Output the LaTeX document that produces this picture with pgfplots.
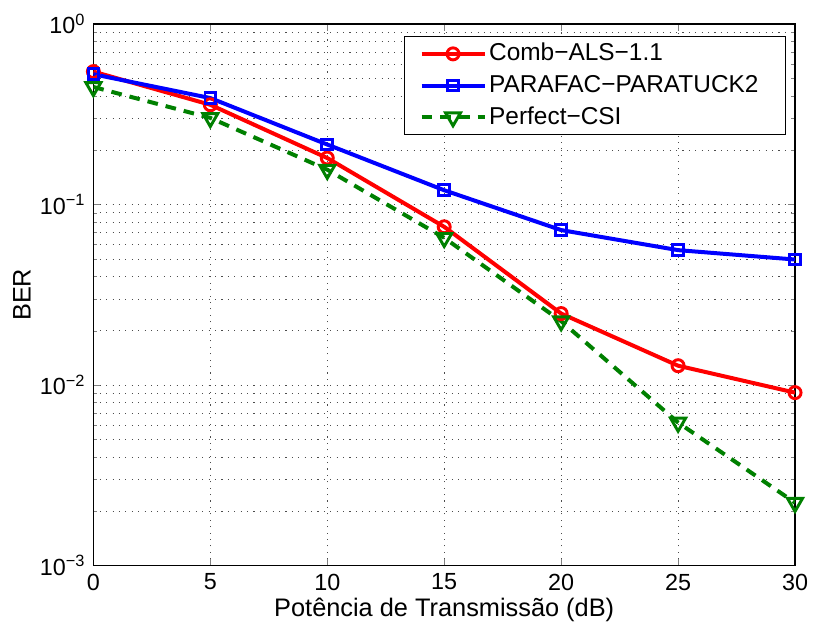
\documentclass[border=0pt]{standalone}
\usepackage{pgfplots}
\pgfplotsset{compat=1.18}
\usepackage{fontspec}
\setmainfont{Liberation Sans}
\definecolor{mgreen}{rgb}{0,0.5,0}
\begin{document}
\fontsize{18}{21}\selectfont
\begin{tikzpicture}
\begin{semilogyaxis}[
  width=526pt, height=406pt, scale only axis,
  xmin=0, xmax=30, ymin=1e-3, ymax=1,
  xtick={0,5,10,15,20,25,30},
  ytick={1e-3,1e-2,1e-1,1},
  yticklabels={10\textsuperscript{−3},10\textsuperscript{−2},10\textsuperscript{−1},10\textsuperscript{0}},
  /pgf/number format/assume math mode=true,
  tick label style={font=\fontsize{17.5}{20}\selectfont},
  label style={font=\fontsize{19}{22}\selectfont},
  xlabel={Potência de Transmissão (dB)},
  ylabel={BER},
  xlabel style={at={(axis description cs:0.5,0)}, anchor=center, yshift=-33pt},
  ylabel style={at={(axis description cs:0,0.5)}, anchor=center, yshift=53.5pt},
  tick align=inside,
  major tick length=5pt, minor tick length=3pt,
  xmajorgrids, ymajorgrids, yminorgrids,
  grid style={black!70, line width=0.5pt, dash pattern=on 0.8pt off 4pt},
  minor grid style={black!70, line width=0.5pt, dash pattern=on 0.8pt off 4pt},
  axis line style={line width=1pt},
  legend style={at={(rel axis cs:1,1)}, anchor=north east, xshift=-7pt, yshift=-9pt,
    draw=black, line width=0.8pt, font=\fontsize{18.3}{21}\selectfont,
    cells={anchor=west}, row sep=4pt, inner sep=3pt},
  legend image code/.code={
    \path (0cm,0cm);
    \draw[#1, mark=none] (0.29cm,0cm) -- (1.95cm,0cm);
    \draw[#1, only marks] plot coordinates {(1.12cm,0cm)};
  },
]
\addplot[red, line width=3pt, mark=o, mark size=4.5pt, mark options={solid, line width=2.2pt}]
coordinates {(0,0.545) (5,0.357) (10,0.181) (15,0.0753) (20,0.0249) (25,0.0128) (30,0.00908)};
\addlegendentry{Comb−ALS−1.1}
\addplot[blue, line width=3pt, mark=square, mark size=4pt, mark options={solid, line width=2.2pt}]
coordinates {(0,0.527) (5,0.389) (10,0.215) (15,0.120) (20,0.0722) (25,0.0559) (30,0.0496)};
\addlegendentry{PARAFAC−PARATUCK2\hspace*{15pt}}
\addplot[mgreen, line width=3pt, dash pattern=on 8pt off 6pt, mark=triangle, mark size=6.5pt, mark options={solid, rotate=180, line width=2.2pt}]
coordinates {(0,0.448) (5,0.302) (10,0.156) (15,0.0654) (20,0.0226) (25,0.0062) (30,0.00223)};
\addlegendentry{Perfect−CSI}
\end{semilogyaxis}
\path (current axis.north) ++(0,18pt);
\path (current axis.south) ++(0,-49pt);
\path (current axis.west) ++(-70pt,0);
\path (current axis.east) ++(15pt,0);
\end{tikzpicture}
\end{document}
